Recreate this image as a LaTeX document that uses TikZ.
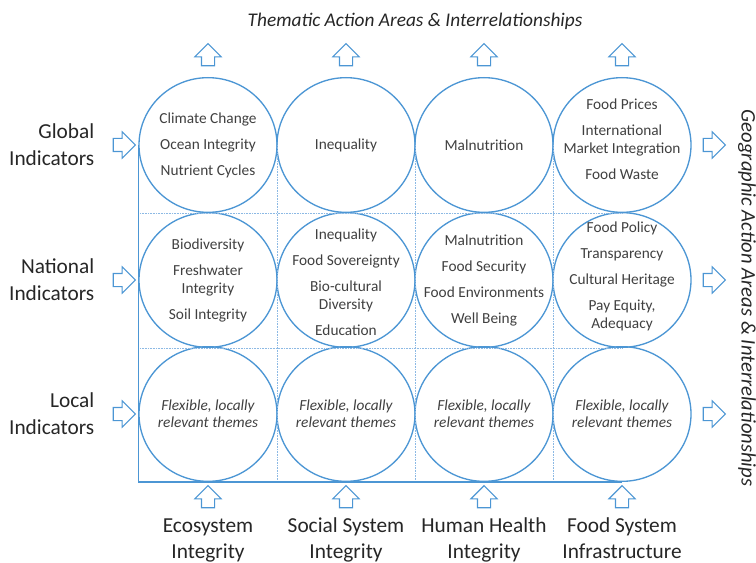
\documentclass[tikz,border=0pt]{standalone}
\usepackage{fontspec}
\setmainfont{Carlito}
\usetikzlibrary{shapes.geometric,shapes.arrows}
\definecolor{ringblue}{RGB}{76,150,212}
\definecolor{gridblue}{RGB}{140,185,228}
\definecolor{textgray}{RGB}{64,64,64}
\definecolor{textdark}{RGB}{38,38,38}
\begin{document}
\begin{tikzpicture}[x=0.75pt, y=-0.75pt, ring/.style={ellipse,draw=ringblue,line width=1pt,minimum width=103.5pt,minimum height=101pt,inner sep=0pt},ringtext/.style={align=center,inner sep=0pt,text=textgray,font=\fontsize{11.5}{13.5}\selectfont},localtext/.style={ringtext,font=\fontsize{11.5}{12.75}\selectfont\itshape},blockarrow/.style={single arrow,draw=ringblue,line width=0.8pt,minimum height=16.5pt,inner sep=0pt,inner ysep=4.5pt,single arrow head extend=4.9pt,text height=0pt,text depth=0pt}]%fill=white,
\useasboundingbox (0,0) rectangle (756,563);
\begin{scope}[every node/.style={text=textdark}]
\node[font=\fontsize{14.5}{16}\selectfont\itshape] (title) at (415,21) {Thematic Action Areas \& Interrelationships};
\node[font=\fontsize{15.5}{17}\selectfont\itshape,rotate=-90] (geo) at (747,298) {Geographic Action Areas \& Interrelationships};
\node[anchor=east,align=right,font=\fontsize{16}{20}\selectfont] (global) at (99,145) {Global\\Indicators};
\node[anchor=east,align=right,font=\fontsize{16}{20}\selectfont] (national) at (99,280) {National\\Indicators};
\node[anchor=east,align=right,font=\fontsize{16}{20}\selectfont] (local) at (99,414) {Local\\Indicators};
\node[align=center,font=\fontsize{16}{20}\selectfont] (eco) at (208,540) {\strut Ecosystem\\Integrity\strut};
\node[align=center,font=\fontsize{16}{20}\selectfont] (social) at (346,540) {\strut Social System\\Integrity\strut};
\node[align=center,font=\fontsize{16}{20}\selectfont] (health) at (484,540) {\strut Human Health\\Integrity\strut};
\node[align=center,font=\fontsize{16}{20}\selectfont] (food) at (622,540) {\strut Food System\\Infrastructure\strut};
\end{scope}
\begin{scope}
\node[ring] (c11) at (208,145) {};
\node[ring] (c12) at (346,145) {};
\node[ring] (c13) at (484,145) {};
\node[ring] (c14) at (622,145) {};
\node[ring] (c21) at (208,280) {};
\node[ring] (c22) at (346,280) {};
\node[ring] (c23) at (484,280) {};
\node[ring] (c24) at (622,280) {};
\node[ring] (c31) at (208,414) {};
\node[ring] (c32) at (346,414) {};
\node[ring] (c33) at (484,414) {};
\node[ring] (c34) at (622,414) {};
\end{scope}
\begin{scope}
\node[ringtext] (t11) at (c11) {Climate Change\\[6pt]Ocean Integrity\\[6pt]Nutrient Cycles};
\node[ringtext] (t12) at (c12) {Inequality};
\node[ringtext] (t13) at (c13) {Malnutrition};
\node[ringtext] (t14) at ([yshift=4pt]c14) {Food Prices\\[6pt]International\\Market Integration\\[6pt]Food Waste};
\node[ringtext] (t21) at (c21) {Biodiversity\\[6pt]Freshwater\\Integrity\\[6pt]Soil Integrity};
\node[ringtext] (t22) at ([yshift=-2pt]c22) {Inequality\\[6pt]Food Sovereignty\\[6pt]Bio-cultural\\Diversity\\[6pt]Education};
\node[ringtext] (t23) at (c23) {Malnutrition\\[6pt]Food Security\\[6pt]Food Environments\\[6pt]Well Being};
\node[ringtext] (t24) at ([yshift=3pt]c24) {Food Policy\\[6pt]Transparency\\[6pt]Cultural Heritage\\[6pt]Pay Equity,\\Adequacy};
\node[localtext] (t31) at (c31) {Flexible, locally\\relevant themes};
\node[localtext] (t32) at (c32) {Flexible, locally\\relevant themes};
\node[localtext] (t33) at (c33) {Flexible, locally\\relevant themes};
\node[localtext] (t34) at (c34) {Flexible, locally\\relevant themes};
\end{scope}
\begin{scope}
\draw[gridblue,line width=0.7pt,dash pattern=on 0.6pt off 0.6pt] (c11.east) -- (c11.east |- c31.south);
\draw[gridblue,line width=0.7pt,dash pattern=on 0.6pt off 0.6pt] (c12.east) -- (c12.east |- c32.south);
\draw[gridblue,line width=0.7pt,dash pattern=on 0.6pt off 0.6pt] (c13.east) -- (c13.east |- c33.south);
\draw[gridblue,line width=0.7pt,dash pattern=on 0.6pt off 0.6pt] (c11.west |- c11.south) -- (c14.south);
\draw[gridblue,line width=0.7pt,dash pattern=on 0.6pt off 0.6pt] (c21.west |- c21.south) -- (c24.south);
\draw[ringblue,line width=1pt] (c11.west) -- (c31.west |- c31.south) -- (c34.south);
\end{scope}
\begin{scope}
\node[blockarrow] (lg) at (121,145) {};
\node[blockarrow] (ln) at (121,280) {};
\node[blockarrow] (ll) at (121,414) {};
\node[blockarrow] (rg) at (711,145) {};
\node[blockarrow] (rn) at (711,280) {};
\node[blockarrow] (rl) at (711,414) {};
\node[blockarrow,rotate=90] (ua1) at (208,58) {};
\node[blockarrow,rotate=90] (ua2) at (346,58) {};
\node[blockarrow,rotate=90] (ua3) at (484,58) {};
\node[blockarrow,rotate=90] (ua4) at (622,58) {};
\node[blockarrow,rotate=90] (ba1) at (208,500) {};
\node[blockarrow,rotate=90] (ba2) at (346,500) {};
\node[blockarrow,rotate=90] (ba3) at (484,500) {};
\node[blockarrow,rotate=90] (ba4) at (622,500) {};
\end{scope}
\end{tikzpicture}
\end{document}
